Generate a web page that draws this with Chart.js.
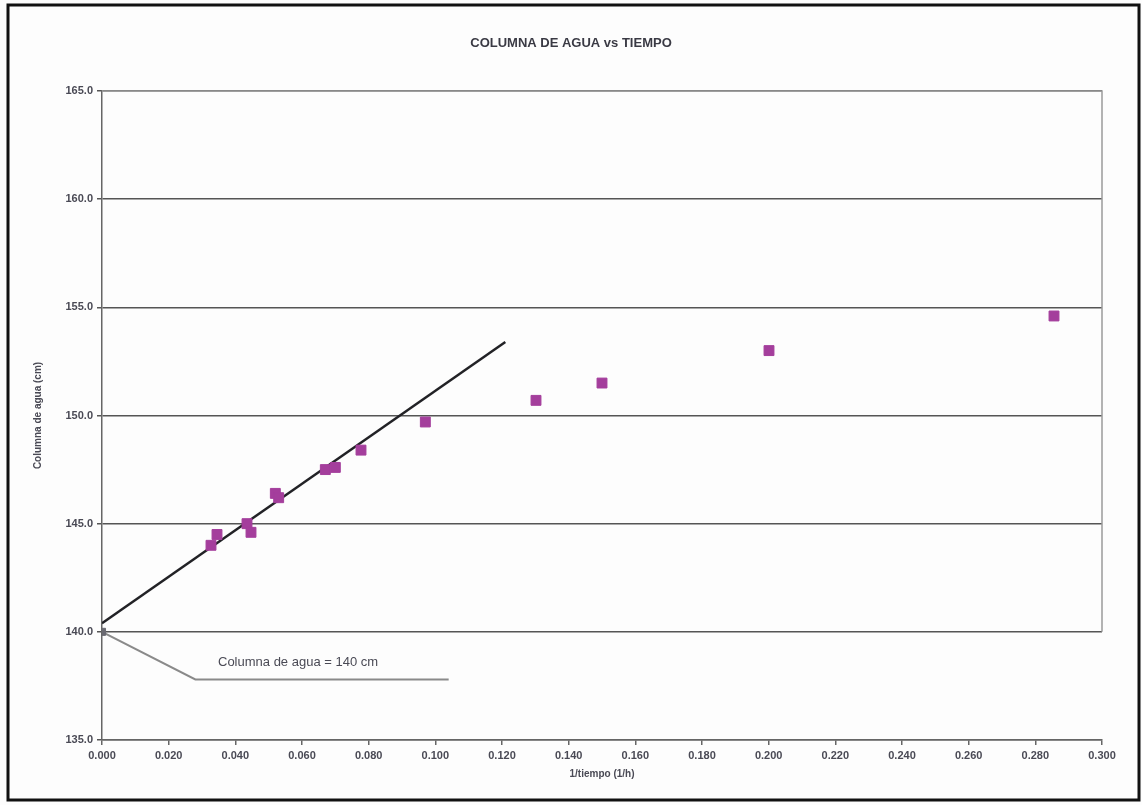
<!DOCTYPE html>
<html>
<head>
<meta charset="utf-8">
<script src="https://cdn.jsdelivr.net/npm/chart.js@4/dist/chart.umd.min.js"></script>
<style>
  html, body { margin: 0; padding: 0; background: #fff; }
  #wrap { width: 1142px; height: 805px; position: relative; }
</style>
</head>
<body>
<div id="wrap"><canvas id="c" width="1142" height="805"></canvas></div>
<script>
// datos
const xValues = [0.0327, 0.0345, 0.0435, 0.0447, 0.0520, 0.0530, 0.0670, 0.0700, 0.0777, 0.0970, 0.1302, 0.1500, 0.2001, 0.2856];
const yValues = [144.0, 144.5, 145.0, 144.6, 146.4, 146.2, 147.5, 147.6, 148.4, 149.7, 150.7, 151.5, 153.0, 154.6];

// recta de ajuste (tramo lineal)
const trendX = [0, 0.121];
const trendY = [140.4, 153.4];

// punto de intersección y línea de llamada
const originX = [0];
const originY = [140.0];
const calloutX = [0, 0.028, 0.104];
const calloutY = [140.0, 137.8, 137.8];
const calloutText = 'Columna de agua = 140 cm';
const calloutPos = [0.0348, 138.6];

const titleText = 'COLUMNA DE AGUA vs TIEMPO';
const xTitle = '1/tiempo (1/h)';
const yTitle = 'Columna de agua (cm)';

const toPts = (xs, ys) => xs.map((x, i) => ({ x, y: ys[i] }));

const FONT = '"Liberation Sans", Arial, sans-serif';
const TEXT = '#4a4a55';

// marco, título, borde del área y texto de la llamada
const decor = {
  id: 'decor',
  beforeDraw(chart) {
    const ctx = chart.ctx;
    ctx.save();
    ctx.fillStyle = '#fdfdfd';
    ctx.fillRect(0, 0, chart.width, chart.height);
    ctx.restore();
  },
  afterDatasetsDraw(chart) {
    const ctx = chart.ctx;
    const { left, right, top } = chart.chartArea;
    const xs = chart.scales.x, ys = chart.scales.y;
    ctx.save();
    // borde superior y derecho del área de trazado
    ctx.strokeStyle = '#9a9a9a';
    ctx.lineWidth = 1.5;
    ctx.beginPath();
    ctx.moveTo(left, top);
    ctx.lineTo(right, top);
    ctx.lineTo(right, ys.getPixelForValue(140));
    ctx.stroke();
    // texto de la llamada
    ctx.fillStyle = TEXT;
    ctx.font = '13px ' + FONT;
    ctx.textBaseline = 'middle';
    ctx.textAlign = 'left';
    ctx.fillText(calloutText, xs.getPixelForValue(calloutPos[0]), ys.getPixelForValue(calloutPos[1]));
    // título
    ctx.font = 'bold 13px ' + FONT;
    ctx.textAlign = 'center';
    ctx.fillStyle = '#3a3a44';
    ctx.fillText(titleText, 571, 43);
    // marco exterior
    ctx.strokeStyle = '#111';
    ctx.lineWidth = 3;
    ctx.strokeRect(8, 5, 1131, 795);
    ctx.restore();
  }
};

new Chart(document.getElementById('c'), {
  type: 'scatter',
  data: {
    datasets: [
      {
        type: 'line',
        data: toPts(calloutX, calloutY),
        borderColor: '#8a8a8a',
        borderWidth: 2,
        pointRadius: 0,
        tension: 0,
        fill: false,
        order: 3
      },
      {
        type: 'line',
        data: toPts(trendX, trendY),
        borderColor: '#222226',
        borderWidth: 2.5,
        pointRadius: 0,
        tension: 0,
        fill: false,
        order: 2
      },
      {
        data: toPts(originX, originY),
        pointStyle: 'rect',
        pointRadius: 5,
        backgroundColor: '#6a6a72',
        borderColor: '#6a6a72',
        order: 1
      },
      {
        data: toPts(xValues, yValues),
        pointStyle: 'rect',
        pointRadius: 7,
        backgroundColor: '#a43e9c',
        borderColor: '#a43e9c',
        borderWidth: 1,
        order: 0
      }
    ]
  },
  options: {
    responsive: false,
    animation: false,
    layout: { padding: { left: 32, right: 40, top: 91, bottom: 25 } },
    plugins: {
      legend: { display: false },
      tooltip: { enabled: false }
    },
    scales: {
      x: {
        type: 'linear',
        min: 0,
        max: 0.3,
        afterFit: s => { s.height = 40; },
        ticks: {
          stepSize: 0.02,
          color: TEXT,
          font: { family: FONT, size: 11, weight: 'bold' },
          padding: 4,
          maxRotation: 0,
          callback: v => v.toFixed(3)
        },
        grid: { drawOnChartArea: false, drawTicks: true, tickLength: 5, color: '#666', lineWidth: 1.5 },
        border: { display: true, color: '#666', width: 1.5 },
        title: {
          display: true,
          text: xTitle,
          color: TEXT,
          font: { family: FONT, size: 10, weight: 'bold' },
          padding: { top: 4, bottom: 0 }
        }
      },
      y: {
        type: 'linear',
        min: 135,
        max: 165,
        afterFit: s => { s.width = 70; },
        ticks: {
          stepSize: 5,
          color: TEXT,
          font: { family: FONT, size: 11, weight: 'bold' },
          padding: 4,
          callback: v => v.toFixed(1)
        },
        grid: { drawOnChartArea: true, drawTicks: true, tickLength: 5, color: '#555', lineWidth: 1.5 },
        border: { display: true, color: '#666', width: 1.5 },
        title: {
          display: true,
          text: yTitle,
          color: TEXT,
          font: { family: FONT, size: 10, weight: 'bold' },
          padding: { top: 0, bottom: 8 }
        }
      }
    }
  },
  plugins: [decor]
});
</script>
</body>
</html>
